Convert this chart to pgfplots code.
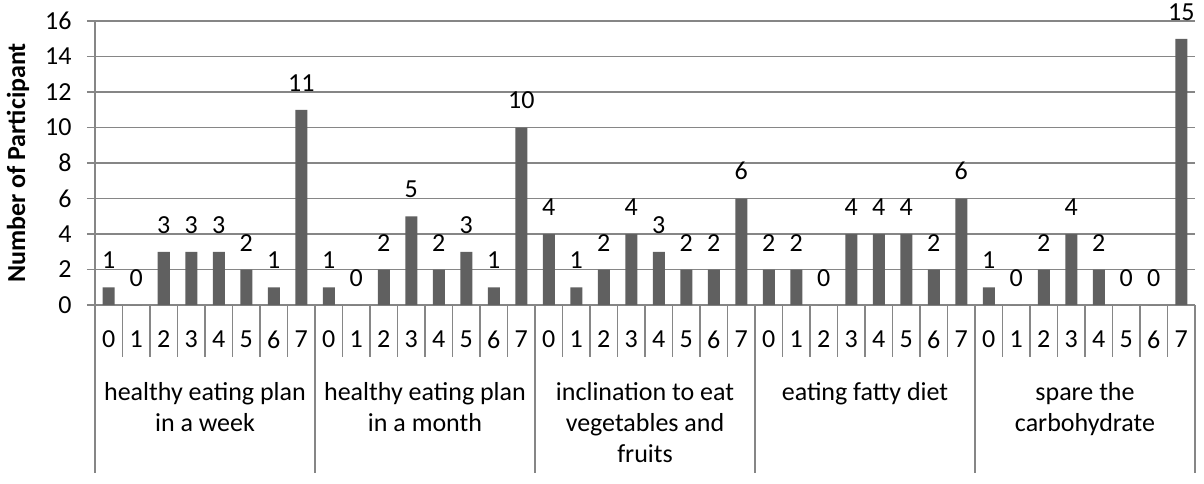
\documentclass[border=0pt]{standalone}
\usepackage{fontspec}
\setmainfont{Carlito}
\usepackage{pgfplots}
\pgfplotsset{compat=1.18}
\definecolor{gridgray}{RGB}{134,134,134}
\definecolor{bargray}{RGB}{96,96,96}

\begin{document}
\begin{tikzpicture}[font=\fontsize{13}{15.5}\selectfont]
\path[use as bounding box] (-47.5pt,-89pt) rectangle (554.5pt,152.5pt);
\begin{axis}[
    at={(0,0)}, anchor=south west,
    scale only axis, width=550pt, height=142pt,
    xmin=-0.5, xmax=39.5, ymin=0, ymax=16,
    ytick={0,2,...,16},
    xtick={0,...,39},
    xticklabels={0,1,2,3,4,5,6,7,0,1,2,3,4,5,6,7,0,1,2,3,4,5,6,7,0,1,2,3,4,5,6,7,0,1,2,3,4,5,6,7},
    axis x line*=bottom, axis y line*=left,
    axis line style={gridgray, line width=0.8pt, -},
    ymajorgrids, grid style={gridgray, line width=0.8pt},
    tick align=outside, major tick length=4pt,
    ytick style={gridgray, line width=0.8pt},
    xtick style={draw=none},
    /pgf/number format/assume math mode=true,
    yticklabel style={xshift=-4.2pt},
    xticklabel style={yshift=-5.2pt},
    ylabel={\bfseries Number of Participant},
    ylabel style={at={(axis description cs:-0.07,0.5)}, anchor=center},
    ybar, bar width=6pt,
    nodes near coords,
    every node near coord/.append style={anchor=south, inner sep=0pt, yshift=9pt, black},
    clip=false,
]
\addplot[fill=bargray, draw=none] coordinates {
    (0,1) (1,0) (2,3) (3,3) (4,3) (5,2) (6,1) (7,11)
    (8,1) (9,0) (10,2) (11,5) (12,2) (13,3) (14,1) (15,10)
    (16,4) (17,1) (18,2) (19,4) (20,3) (21,2) (22,2) (23,6)
    (24,2) (25,2) (26,0) (27,4) (28,4) (29,4) (30,2) (31,6)
    (32,1) (33,0) (34,2) (35,4) (36,2) (37,0) (38,0) (39,15)
};
% category separators
\pgfplotsinvokeforeach{-0.5,0.5,...,39.5}{
    \draw[gridgray, line width=0.8pt] (axis cs:#1,0) -- ([yshift=-26pt]axis cs:#1,0);
}
\pgfplotsinvokeforeach{-0.5,7.5,15.5,23.5,31.5,39.5}{
    \draw[gridgray, line width=0.8pt] (axis cs:#1,0) -- ([yshift=-84pt]axis cs:#1,0);
}
% group labels
\tikzset{grp/.style={anchor=north, align=center, inner sep=0pt, yshift=-38.4pt}}
\node[grp] at (axis cs:3.5,0) {healthy eating plan\\in a week};
\node[grp] at (axis cs:11.5,0) {healthy eating plan\\in a month};
\node[grp] at (axis cs:19.5,0) {inclination to eat\\vegetables and\\fruits};
\node[grp] at (axis cs:27.5,0) {eating fatty diet};
\node[grp] at (axis cs:35.5,0) {spare the\\carbohydrate};
\end{axis}
\end{tikzpicture}
\end{document}
